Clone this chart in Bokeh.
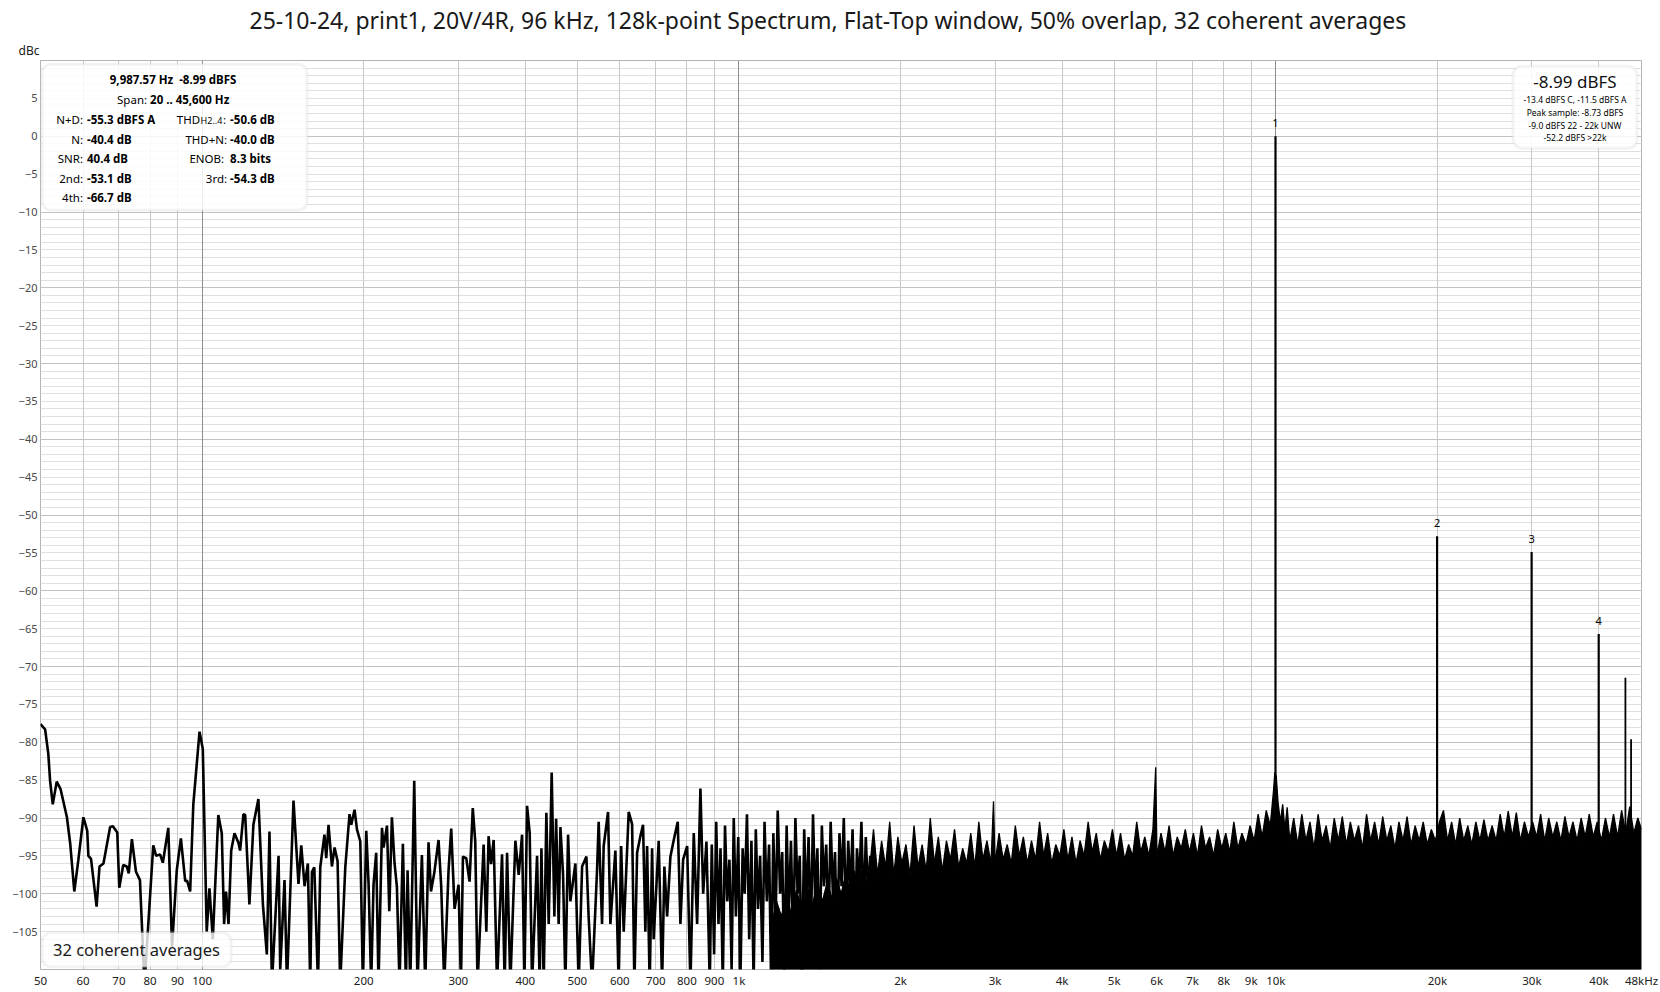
from bokeh.plotting import figure
from bokeh.models import Range1d, FixedTicker, Grid, BoxAnnotation, Label, Title
from bokeh.core.properties import value
from bokeh.embed import file_html
from bokeh.resources import INLINE

TITLE = "25-10-24, print1, 20V/4R, 96 kHz, 128k-point Spectrum, Flat-Top window, 50% overlap, 32 coherent averages"

# ---- spectrum trace below ~1.75 kHz: (frequency Hz, level dBc) ----
spectrum_low = [
    (50.0, -77.6), (51.0, -78.3), (51.7, -81.5), (52.1, -85.1), (52.7, -88.2), (53.6, -85.2),
    (54.5, -86.2), (56.0, -89.9), (56.8, -93.4), (57.8, -99.7), (58.8, -95.6), (60.1, -89.9),
    (61.1, -91.7), (61.4, -95.0), (62.1, -95.4), (63.6, -101.7), (64.4, -96.4), (65.5, -96.0),
    (67.4, -91.2), (68.2, -91.1), (69.5, -91.9), (70.1, -99.2), (71.3, -96.2), (72.4, -96.4),
    (73.0, -97.3), (74.0, -92.8), (75.3, -97.1), (76.6, -98.2), (78.1, -112.0), (81.1, -93.6),
    (82.1, -95.0), (83.5, -94.8), (84.5, -95.9), (86.5, -91.3), (87.9, -107.0), (89.7, -96.9),
    (91.3, -92.7), (93.0, -98.3), (93.8, -98.3), (95.0, -99.7), (96.3, -88.2), (98.9, -78.6),
    (100.3, -80.9), (102.0, -105.0), (103.2, -99.3), (104.7, -106.0), (107.2, -89.6), (108.8, -92.0),
    (109.9, -104.0), (110.8, -99.7), (112.0, -104.0), (113.3, -94.3), (114.9, -92.0), (116.9, -93.3),
    (117.7, -94.3), (119.4, -89.5), (120.3, -89.6), (122.5, -101.4), (124.6, -90.9), (127.3, -87.5),
    (129.8, -101.4), (132.0, -108.0), (133.5, -91.8), (134.9, -112.0), (138.8, -95.0), (139.8, -110.0),
    (142.4, -98.2), (143.9, -112.0), (148.0, -87.7), (151.2, -98.7), (153.0, -93.6), (155.2, -99.0),
    (157.4, -96.0), (159.0, -112.0), (160.2, -97.1), (161.8, -96.5), (164.4, -112.0), (166.0, -96.5),
    (169.0, -92.2), (170.3, -95.3), (172.0, -90.9), (174.5, -96.4), (176.5, -93.9), (178.8, -95.7),
    (180.8, -112.0), (184.8, -96.5), (188.2, -89.5), (189.6, -90.9), (192.3, -88.9), (194.3, -91.5),
    (197.1, -93.1), (199.3, -112.0), (202.2, -91.7), (204.2, -98.6), (206.5, -112.0), (208.6, -98.8),
    (211.0, -94.6), (213.1, -112.0), (216.3, -91.3), (217.8, -93.9), (221.0, -91.0), (223.2, -102.3),
    (225.7, -89.9), (228.3, -96.0), (230.6, -99.1), (233.2, -112.0), (236.6, -93.4), (239.7, -112.0),
    (241.4, -96.9), (244.2, -112.0), (248.4, -85.1), (251.9, -112.0), (256.7, -94.9), (260.4, -112.0),
    (264.1, -93.2), (266.9, -99.7), (270.6, -97.3), (275.7, -92.9), (278.9, -99.1), (282.5, -112.0),
    (287.8, -96.9), (291.1, -91.4), (295.3, -102.0), (300.4, -98.8), (303.5, -112.0), (306.1, -95.1),
    (310.5, -95.3), (314.9, -98.4), (319.3, -88.7), (322.7, -93.1), (325.9, -112.0), (334.5, -93.5),
    (338.4, -105.0), (341.7, -92.4), (345.3, -96.1), (349.2, -92.9), (354.3, -112.0), (362.0, -94.8),
    (366.1, -112.0), (369.9, -94.6), (375.1, -112.0), (383.3, -93.0), (388.8, -97.5), (394.5, -92.2),
    (398.4, -112.0), (403.0, -88.4), (407.6, -92.0), (411.7, -112.0), (420.7, -95.0), (425.4, -112.0),
    (428.6, -94.0), (432.8, -112.0), (437.8, -89.3), (442.2, -104.0), (447.9, -84.0), (453.1, -103.0),
    (456.5, -90.1), (461.5, -104.0), (465.0, -91.2), (470.3, -97.5), (475.0, -112.0), (480.5, -92.2),
    (485.3, -101.0), (495.8, -96.0), (502.9, -112.0), (510.3, -96.4), (519.8, -95.1), (524.8, -103.0),
    (532.6, -112.0), (544.1, -96.9), (547.9, -90.5), (555.9, -104.0), (559.8, -93.7), (570.4, -89.2),
    (576.1, -104.0), (588.6, -94.3), (597.0, -112.0), (603.3, -93.7), (610.0, -105.0), (623.2, -89.2),
    (632.4, -90.8), (638.6, -112.0), (646.1, -94.6), (655.2, -92.4), (662.8, -90.9), (669.4, -105.0),
    (674.4, -93.7), (681.9, -112.0), (689.0, -94.0), (693.7, -106.0), (708.8, -93.0), (719.2, -112.0),
    (726.3, -96.4), (734.9, -103.0), (745.3, -95.1), (756.1, -92.9), (769.1, -90.5), (778.0, -104.0),
    (787.1, -95.5), (800.8, -93.7), (812.1, -112.0), (823.8, -92.0), (835.8, -104.0), (847.7, -86.1),
    (857.7, -100.0), (869.9, -93.1), (882.4, -112.0),
]

spectrum_mid = [
    (890, -93.5), (899, -108.0), (907, -90.5), (916, -104.0), (924, -94.0), (933, -112.0),
    (942, -91.0), (951, -101.0), (960, -95.5), (969, -110.0), (978, -90.0), (987, -103.0),
    (997, -92.5), (1006, -112.0), (1016, -94.0), (1025, -100.0), (1035, -89.5), (1045, -106.0),
    (1055, -93.0), (1065, -112.0), (1075, -91.5), (1085, -102.0), (1095, -95.0), (1106, -109.0),
    (1116, -90.5), (1127, -101.0), (1138, -93.5), (1148, -112.0), (1159, -92.0), (1170, -104.0),
    (1181, -89.0), (1193, -100.0), (1204, -94.5), (1215, -111.0), (1227, -91.0), (1238, -103.0),
    (1250, -93.0), (1262, -107.0), (1274, -90.0), (1286, -100.0), (1298, -95.0), (1310, -112.0),
    (1323, -91.5), (1335, -102.0), (1348, -92.5), (1361, -106.0), (1374, -89.5), (1387, -101.0),
    (1400, -94.0), (1413, -110.0), (1427, -91.0), (1440, -99.0), (1454, -93.5), (1468, -105.0),
    (1482, -90.5), (1496, -100.0), (1510, -94.5), (1524, -108.0), (1539, -92.0), (1553, -99.0),
    (1568, -90.0), (1583, -104.0), (1598, -93.0), (1613, -100.0), (1628, -91.5), (1644, -107.0),
    (1659, -94.0), (1675, -99.0), (1691, -90.5), (1707, -103.0), (1723, -92.5), (1740, -100.0),
    (1756, -95.0),
]

# ---- upper edge of the dense noise floor above ~1.15 kHz (filled down to the bottom) ----
noise_envelope = [
    (1150, -104.0), (1175, -101.0), (1200, -103.0), (1225, -100.0), (1250, -102.5), (1280, -99.5),
    (1310, -102.0), (1340, -99.0), (1370, -101.5), (1400, -98.5), (1430, -101.0), (1460, -98.5),
    (1490, -100.5), (1520, -98.0), (1550, -100.0), (1580, -97.5), (1610, -99.5), (1640, -97.0),
    (1670, -99.0), (1700, -96.5), (1725, -98.5),
    (1750, -97.0), (1781, -91.5), (1812, -97.5), (1844, -93.0), (1876, -96.5), (1909, -90.5),
    (1943, -97.5), (1977, -92.5), (2011, -96.0), (2047, -93.5), (2083, -97.5), (2119, -91.0),
    (2156, -96.5), (2194, -93.5), (2233, -97.0), (2272, -90.0), (2312, -96.0), (2352, -92.5),
    (2393, -97.0), (2435, -93.0), (2478, -95.5), (2521, -91.5), (2566, -96.5), (2611, -94.0),
    (2656, -96.0), (2703, -92.0), (2750, -96.5), (2798, -90.5), (2847, -95.5), (2897, -93.0),
    (2948, -96.0), (2980, -87.8), (3000, -96.0), (3052, -92.0), (3106, -95.5), (3160, -93.5),
    (3216, -96.0), (3272, -91.0), (3329, -95.0), (3387, -92.5), (3447, -96.0), (3507, -93.0),
    (3569, -95.5), (3631, -90.5), (3695, -95.0), (3759, -92.0), (3825, -96.0), (3892, -93.5),
    (3960, -95.0), (4030, -91.5), (4100, -95.5), (4172, -92.5), (4245, -96.0), (4320, -93.0),
    (4395, -95.0), (4472, -90.5), (4550, -94.5), (4630, -92.0), (4711, -95.5), (4794, -93.0),
    (4877, -94.5), (4963, -91.5), (5050, -95.0), (5138, -92.0), (5228, -95.5), (5320, -93.5),
    (5413, -95.0), (5508, -90.5), (5604, -94.5), (5702, -92.5), (5802, -95.0), (5904, -91.5),
    (5975, -83.3), (6007, -95.0), (6112, -92.0), (6219, -94.5), (6328, -91.0), (6439, -95.0),
    (6552, -92.5), (6667, -94.0), (6783, -91.5), (6902, -94.5), (7023, -92.0), (7146, -95.0),
    (7271, -91.0), (7398, -94.0), (7528, -92.5), (7660, -95.0), (7794, -91.5), (7930, -94.0),
    (8069, -92.0), (8210, -94.5), (8354, -90.5), (8500, -94.0), (8649, -92.0), (8801, -93.5),
    (8955, -91.0), (9112, -93.0), (9271, -89.5), (9434, -92.5), (9599, -89.0), (9767, -91.0),
    (9900, -86.5), (9960, -84.0), (10020, -84.5), (10100, -88.0), (10200, -90.5), (10300, -88.2),
    (10400, -91.5), (10500, -88.6), (10620, -93.0), (10800, -90.0), (10990, -93.5), (11180, -89.5),
    (11380, -93.0), (11580, -90.5), (11780, -94.0), (11990, -89.5), (12200, -93.0), (12410, -91.0),
    (12630, -94.0), (12850, -90.0), (13080, -93.0), (13300, -89.8), (13540, -93.5), (13770, -90.5),
    (14010, -93.0), (14260, -91.0), (14510, -94.0), (14760, -89.5), (15020, -93.0), (15280, -90.5),
    (15550, -93.5), (15820, -89.8), (16100, -93.0), (16380, -91.0), (16670, -94.0), (16960, -90.5),
    (17260, -93.0), (17560, -89.8), (17870, -93.5), (18180, -91.0), (18500, -93.0), (18820, -90.5),
    (19150, -93.5), (19490, -91.5), (19830, -93.0), (20180, -90.5), (20530, -89.0), (20890, -93.0),
    (21260, -90.5), (21630, -93.5), (22010, -90.0), (22390, -93.0), (22790, -91.0), (23180, -93.5),
    (23590, -90.5), (24000, -93.0), (24420, -90.2), (24850, -93.0), (25290, -91.0), (25730, -93.0),
    (26180, -89.5), (26640, -92.5), (27100, -89.1), (27580, -92.5), (28060, -89.3), (28550, -93.0),
    (29050, -90.5), (29560, -92.5), (30080, -90.5), (30610, -92.5), (31140, -89.5), (31690, -93.0),
    (32240, -90.0), (32810, -92.5), (33380, -90.5), (33970, -93.0), (34560, -89.8), (35170, -92.5),
    (35780, -90.5), (36410, -93.0), (37050, -90.0), (37700, -92.5), (38360, -89.5), (39030, -92.5),
    (39710, -90.5), (40410, -93.0), (41120, -90.0), (41840, -92.5), (42570, -89.5), (43320, -92.5),
    (44080, -89.0), (44850, -92.0), (45640, -88.5), (46440, -92.0), (47250, -90.0), (48000, -91.5),
]

# ---- fundamental and harmonics (spike tops) ----
harm_freq = [9987.57, 19975.1, 29962.7, 39950.3]
harm_level = [0.0, -52.8, -54.9, -65.7]
harm_label = ["1", "2", "3", "4"]
spur_freq = [44800.0, 45900.0]
spur_level = [-71.5, -79.6]

# ---- axes ----
x_ticks = [50, 60, 70, 80, 90, 100, 200, 300, 400, 500, 600, 700, 800, 900,
           1000, 2000, 3000, 4000, 5000, 6000, 7000, 8000, 9000, 10000, 20000, 30000, 40000, 48000]
x_tick_labels = ["50", "60", "70", "80", "90", "100", "200", "300", "400", "500", "600", "700", "800", "900",
                 "1k", "2k", "3k", "4k", "5k", "6k", "7k", "8k", "9k", "10k", "20k", "30k", "40k", "48kHz"]
x_grid_major = [100, 1000, 10000]
x_grid_minor = [60, 70, 80, 90, 200, 300, 400, 500, 600, 700, 800, 900,
                2000, 3000, 4000, 5000, 6000, 7000, 8000, 9000, 20000, 30000, 40000]
y_ticks = list(range(-105, 10, 5))
y_grid_major = list(range(-100, 10, 10))
y_grid_minor = list(range(-109, 10, 1))

FONT = "Noto Sans"

p = figure(width=1660, height=992, x_axis_type="log",
           x_range=Range1d(50, 48000), y_range=Range1d(-110, 10),
           output_backend="svg", toolbar_location=None,
           min_border_left=40, min_border_right=19, min_border_top=60, min_border_bottom=23)
p.outline_line_color = "#b4b4b4"
p.background_fill_color = "white"
p.border_fill_color = "white"

p.add_layout(Title(text="dBc", align="left", offset=-22, standoff=4,
                   text_font=FONT, text_font_size="12px", text_font_style="normal",
                   text_color="#202020"), "above")
p.title.text = TITLE
p.title.align = "left"
p.title.offset = 209
p.title.standoff = 3
p.title.text_font = FONT
p.title.text_font_size = "23px"
p.title.text_font_style = "normal"
p.title.text_color = "#1a1a1a"

p.xgrid.grid_line_color = None
p.ygrid.grid_line_color = None
p.add_layout(Grid(dimension=1, ticker=FixedTicker(ticks=y_grid_minor), grid_line_color="#e0e0e0", grid_line_width=1))
p.add_layout(Grid(dimension=1, ticker=FixedTicker(ticks=y_grid_major), grid_line_color="#c2c2c2", grid_line_width=1))
p.add_layout(Grid(dimension=0, ticker=FixedTicker(ticks=x_grid_minor), grid_line_color="#c8c8c8", grid_line_width=1))
p.add_layout(Grid(dimension=0, ticker=FixedTicker(ticks=x_grid_major), grid_line_color="#8c8c8c", grid_line_width=1))

for ax in (p.xaxis[0], p.yaxis[0]):
    ax.axis_line_color = None
    ax.major_tick_line_color = None
    ax.minor_tick_line_color = None
    ax.major_tick_out = 0
    ax.major_tick_in = 0
    ax.minor_tick_out = 0
    ax.minor_tick_in = 0
    ax.major_label_text_font = FONT
p.xaxis.ticker = FixedTicker(ticks=x_ticks)
p.xaxis.major_label_overrides = {t: l for t, l in zip(x_ticks, x_tick_labels)}
p.xaxis.major_label_standoff = 3
p.xaxis.major_label_text_font_size = "11.5px"
p.xaxis.major_label_text_color = "#202020"
p.yaxis.ticker = FixedTicker(ticks=y_ticks)
p.yaxis.major_label_standoff = 3
p.yaxis.major_label_text_font_size = "11px"
p.yaxis.major_label_text_color = "#484848"

# ---- data marks ----
low_f = [a for a, b in spectrum_low] + [a for a, b in spectrum_mid]
low_db = [b for a, b in spectrum_low] + [b for a, b in spectrum_mid]
env_f = [a for a, b in noise_envelope]
env_db = [b for a, b in noise_envelope]

p.varea(x=env_f, y1=-115, y2=env_db, fill_color="black")
p.line(env_f, env_db, line_color="black", line_width=1.3)
p.line(low_f, low_db, line_color="black", line_width=2.6)
p.segment(x0=harm_freq, y0=-100, x1=harm_freq, y1=harm_level, line_color="black", line_width=2.2)
p.segment(x0=spur_freq, y0=-100, x1=spur_freq, y1=spur_level, line_color="black", line_width=1.8)
p.text(x=harm_freq, y=[v + 1.75 for v in harm_level], text=harm_label,
       text_align="center", text_baseline="middle", text_font=value(FONT),
       text_font_size="11px", text_color="black")


# ---- annotations (positions given in reference-image pixels) ----
def fx(px):
    return 100 * 10 ** ((px - 202) / 536.5)


def fy(py):
    return -(py - 136) / 7.57


def lab(text, px, py, size="11.5px", bold=False, align="left", color="black"):
    p.add_layout(Label(x=fx(px), y=fy(py), text=text, text_align=align, text_baseline="middle",
                       text_font=FONT, text_font_size=size,
                       text_font_style="bold" if bold else "normal", text_color=color))


p.add_layout(BoxAnnotation(left=fx(42), right=fx(307), top=fy(64), bottom=fy(210),
                           fill_color="white", fill_alpha=0.85, line_color="#d6d6d6",
                           line_width=3, border_radius=9))
p.add_layout(BoxAnnotation(left=fx(1512), right=fx(1636), top=fy(66), bottom=fy(148),
                           fill_color="white", fill_alpha=0.85, line_color="#d6d6d6",
                           line_width=3, border_radius=9))
p.add_layout(BoxAnnotation(left=fx(42), right=fx(231), top=fy(932), bottom=fy(966),
                           fill_color="white", fill_alpha=0.8, line_color="#d6d6d6",
                           line_width=3, border_radius=9))

# info panel
lab("9,987.57 Hz\u00a0\u00a0-8.99 dBFS", 173, 79, bold=True, align="center")
lab("Span:", 147, 99, align="right")
lab("20 .. 45,600 Hz", 150, 99, bold=True)
rows_left = [("N+D:", "-55.3 dBFS A", 119), ("N:", "-40.4 dB", 139), ("SNR:", "40.4 dB", 158.5),
             ("2nd:", "-53.1 dB", 178), ("4th:", "-66.7 dB", 197.5)]
for name, val, yy in rows_left:
    lab(name, 83, yy, align="right")
    lab(val, 87, yy, bold=True)
lab("THD", 200, 119, align="right")
lab("H2..4", 200.5, 120.5, size="9px")
lab(":", 223, 119)
lab("-50.6 dB", 230, 119, bold=True)
lab("THD+N:", 227, 139, align="right")
lab("-40.0 dB", 230, 139, bold=True)
lab("ENOB:", 224, 158.5, align="right")
lab("8.3 bits", 230, 158.5, bold=True)
lab("3rd:", 227, 178, align="right")
lab("-54.3 dB", 230, 178, bold=True)

# level panel
lab("-8.99 dBFS", 1574, 81.5, size="17px", align="center", color="#101010")
lab("-13.4 dBFS C, -11.5 dBFS A", 1574, 99.5, size="8.5px", align="center")
lab("Peak sample: -8.73 dBFS", 1574, 112, size="8.5px", align="center")
lab("-9.0 dBFS 22 - 22k UNW", 1574, 125, size="8.5px", align="center")
lab("-52.2 dBFS >22k", 1574, 137.5, size="8.5px", align="center")

# averages badge
lab("32 coherent averages", 53, 949, size="16.5px", color="#1a1a1a")

open("out.html", "w").write(file_html(p, INLINE))
